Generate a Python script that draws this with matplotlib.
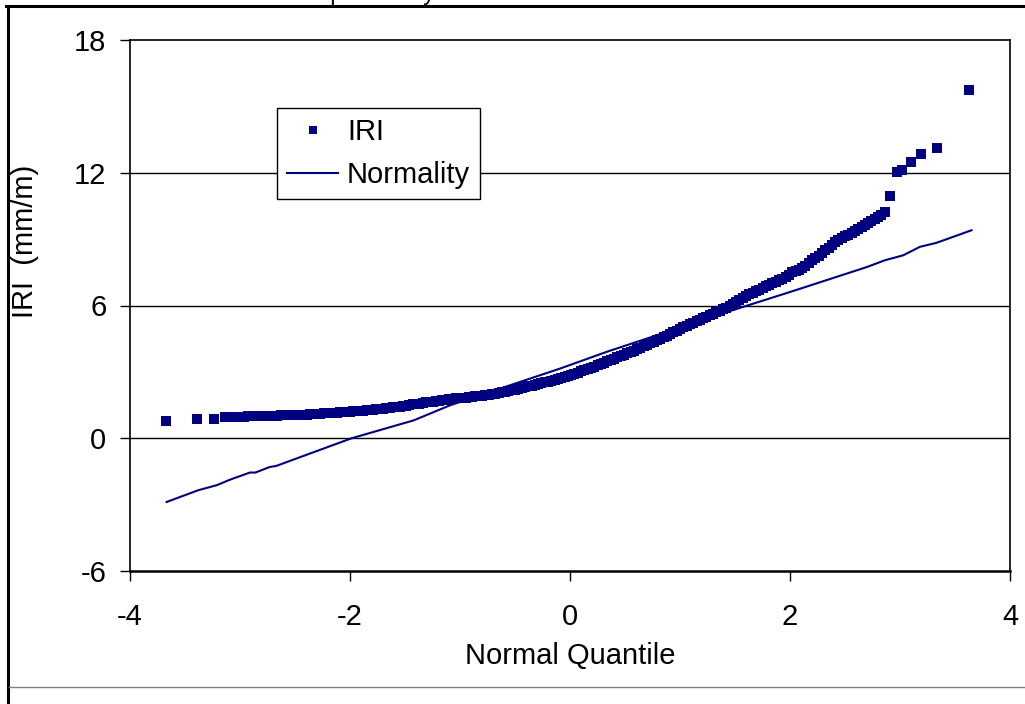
import matplotlib
matplotlib.use("Agg")
import matplotlib.pyplot as plt
from matplotlib.lines import Line2D

plt.rcParams['font.family'] = ['Liberation Sans', 'DejaVu Sans']
plt.rcParams['axes.unicode_minus'] = False

NAVY = "#000080"

# IRI sorted values against their normal quantile
iri_z = [-3.67, -3.39, -3.24,
         -3.14, -3.11, -3.08, -3.05, -3.02, -2.99, -2.96, -2.93,
         -2.90, -2.87, -2.84, -2.81, -2.78, -2.75, -2.72, -2.69, -2.66, -2.63,
         -2.60, -2.57, -2.54, -2.51, -2.48, -2.45, -2.42, -2.39, -2.36, -2.33,
         -2.30, -2.27, -2.24, -2.21, -2.18, -2.15, -2.12, -2.09, -2.06, -2.03,
         -2.00, -1.97, -1.94, -1.91, -1.88, -1.85, -1.82, -1.79, -1.76, -1.73,
         -1.70, -1.67, -1.64, -1.61, -1.58, -1.55, -1.52, -1.49, -1.46, -1.43,
         -1.40, -1.37, -1.34, -1.31, -1.28, -1.25, -1.22, -1.19, -1.16, -1.13,
         -1.10, -1.07, -1.04, -1.01, -0.98, -0.95, -0.92, -0.89, -0.86, -0.83,
         -0.80, -0.77, -0.74, -0.71, -0.68, -0.65, -0.62, -0.59, -0.56, -0.53,
         -0.50, -0.47, -0.44, -0.41, -0.38, -0.35, -0.32, -0.29, -0.26, -0.23,
         -0.20, -0.17, -0.14, -0.11, -0.08, -0.05, -0.02, 0.01, 0.04, 0.07,
         0.10, 0.13, 0.16, 0.19, 0.22, 0.25, 0.28, 0.31, 0.34, 0.37,
         0.40, 0.43, 0.46, 0.49, 0.52, 0.55, 0.58, 0.61, 0.64, 0.67,
         0.70, 0.73, 0.76, 0.79, 0.82, 0.85, 0.88, 0.91, 0.94, 0.97,
         1.00, 1.03, 1.06, 1.09, 1.12, 1.15, 1.18, 1.21, 1.24, 1.27,
         1.30, 1.33, 1.36, 1.39, 1.42, 1.45, 1.48, 1.51, 1.54, 1.57,
         1.60, 1.63, 1.66, 1.69, 1.72, 1.75, 1.78, 1.81, 1.84, 1.87,
         1.90, 1.93, 1.96, 1.99, 2.02, 2.05, 2.08, 2.11, 2.14, 2.17,
         2.20, 2.23, 2.26, 2.29, 2.32, 2.35, 2.38, 2.41, 2.44, 2.47,
         2.50, 2.53, 2.56, 2.59, 2.62, 2.65, 2.68, 2.71, 2.74, 2.77,
         2.80, 2.83, 2.86,
         2.91, 2.97, 3.02, 3.10, 3.19, 3.34, 3.63]
iri_val = [0.77, 0.86, 0.86,
           0.95, 0.95, 0.95, 0.96, 0.96, 0.97, 0.98, 0.99,
           1.00, 1.00, 1.00, 1.01, 1.01, 1.01, 1.02, 1.02, 1.02, 1.03,
           1.03, 1.04, 1.04, 1.05, 1.05, 1.06, 1.07, 1.07, 1.08, 1.09,
           1.10, 1.11, 1.12, 1.13, 1.14, 1.15, 1.16, 1.17, 1.18, 1.19,
           1.20, 1.21, 1.22, 1.24, 1.25, 1.26, 1.28, 1.29, 1.30, 1.32,
           1.33, 1.35, 1.37, 1.39, 1.41, 1.43, 1.45, 1.48, 1.50, 1.53,
           1.55, 1.57, 1.60, 1.62, 1.64, 1.66, 1.68, 1.70, 1.72, 1.74,
           1.76, 1.78, 1.80, 1.81, 1.83, 1.84, 1.86, 1.88, 1.89, 1.91,
           1.92, 1.94, 1.96, 1.99, 2.02, 2.05, 2.08, 2.11, 2.14, 2.17,
           2.20, 2.23, 2.27, 2.30, 2.34, 2.38, 2.42, 2.45, 2.49, 2.53,
           2.56, 2.60, 2.65, 2.69, 2.74, 2.78, 2.83, 2.88, 2.92, 2.97,
           3.02, 3.07, 3.12, 3.17, 3.23, 3.29, 3.35, 3.41, 3.47, 3.54,
           3.60, 3.66, 3.72, 3.78, 3.84, 3.90, 3.96, 4.02, 4.09, 4.15,
           4.22, 4.29, 4.36, 4.43, 4.50, 4.57, 4.64, 4.72, 4.79, 4.87,
           4.95, 5.02, 5.09, 5.15, 5.22, 5.29, 5.36, 5.43, 5.50, 5.56,
           5.63, 5.70, 5.76, 5.83, 5.90, 5.98, 6.06, 6.15, 6.24, 6.33,
           6.42, 6.50, 6.58, 6.65, 6.72, 6.79, 6.86, 6.93, 7.00, 7.07,
           7.14, 7.22, 7.30, 7.40, 7.50, 7.56, 7.62, 7.70, 7.78, 7.92,
           8.05, 8.15, 8.25, 8.38, 8.50, 8.62, 8.75, 8.85, 8.95, 9.04,
           9.12, 9.20, 9.28, 9.36, 9.44, 9.53, 9.62, 9.71, 9.80, 9.89,
           9.98, 10.10, 10.23,
           10.95, 12.04, 12.11, 12.49, 12.84, 13.12, 15.73]

# fitted normal line
norm_z = [-3.667, -3.38, -3.21, -3.09, -2.91, -2.86, -2.73, -2.67, -1.985,
          -1.42, -1.09, -0.09, 0.33, 1.48, 2.00, 2.70, 2.86, 3.03, 3.18,
          3.33, 3.65]
norm_val = [-2.88, -2.35, -2.12, -1.87, -1.55, -1.55, -1.30, -1.25, 0.0,
            0.81, 1.49, 3.15, 3.90, 5.79, 6.61, 7.74, 8.04, 8.27, 8.65,
            8.83, 9.40]

x_ticks = [-4, -2, 0, 2, 4]
y_ticks = [-6, 0, 6, 12, 18]

fig = plt.figure(figsize=(10.25, 7.04), dpi=100)
ax = fig.add_axes([130 / 1025, 133 / 704, 880 / 1025, 531 / 704])

for y in [0, 6, 12]:
    ax.axhline(y, color="black", lw=1.0, zorder=1)

ax.plot(iri_z, iri_val, linestyle="none", marker="s", markersize=7.2,
        color=NAVY, markeredgewidth=0, label="IRI", zorder=3)
ax.plot(norm_z, norm_val, color=NAVY, lw=1.5, label="Normality", zorder=2)

ax.set_xlim(-4, 4)
ax.set_ylim(-6, 18)
ax.set_xticks(x_ticks)
ax.set_yticks(y_ticks)
ax.tick_params(axis="both", direction="out", length=7, width=1,
               labelsize=21, color="black")
ax.tick_params(axis="x", pad=16)
ax.tick_params(axis="y", pad=10)
for side in ["left", "right", "top", "bottom"]:
    ax.spines[side].set_color("black")
    ax.spines[side].set_linewidth(1.2)
ax.spines["bottom"].set_linewidth(1.8)

ax.set_xlabel("Normal Quantile", fontsize=21, va="center")
ax.xaxis.set_label_coords(0.5, -0.160)
ax.set_ylabel("IRI  (mm/m)", fontsize=21, va="center")
ax.yaxis.set_label_coords(-0.119, 0.62)

leg = ax.legend(loc="upper left", bbox_to_anchor=(0.167, 0.872),
                fontsize=21, frameon=True, fancybox=False, framealpha=1,
                edgecolor="black", borderaxespad=0, borderpad=0.35,
                labelspacing=0.5, handlelength=1.75, handletextpad=0.3,
                markerscale=0.75)
leg.get_frame().set_linewidth(1.0)

# page frame around the chart
fig.add_artist(Line2D([7.5 / 1025, 7.5 / 1025], [0, 1 - 5.5 / 704],
                      transform=fig.transFigure, color="black", lw=2.2))
fig.add_artist(Line2D([6 / 1025, 1], [1 - 5.5 / 704, 1 - 5.5 / 704],
                      transform=fig.transFigure, color="black", lw=2.2))
fig.add_artist(Line2D([9 / 1025, 1], [1 - 687 / 704, 1 - 687 / 704],
                      transform=fig.transFigure, color="#808080", lw=1.0))

# caption above the frame, cut off by the top edge
fig.text(250 / 1025, 1 + 0.3 / 704, "Normal probability", fontsize=16.6,
         ha="left", va="baseline")

fig.savefig("out.png", dpi=100)
